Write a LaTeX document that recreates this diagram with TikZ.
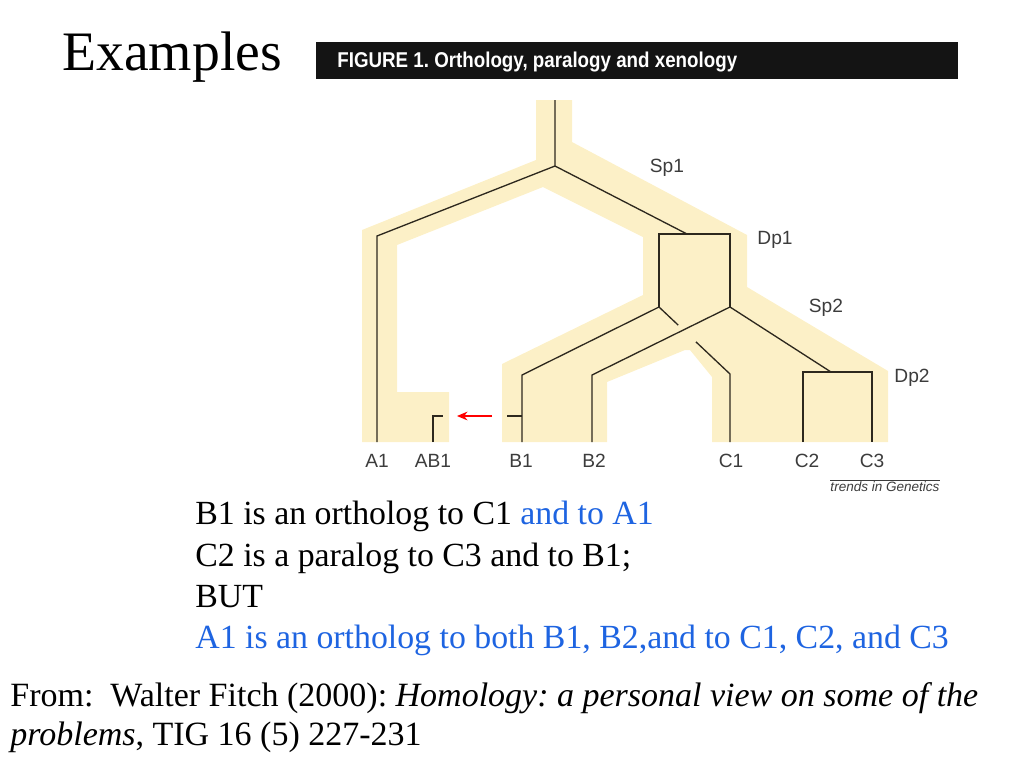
\documentclass[tikz,border=0pt]{standalone}
\usepackage{fontspec}
\setmainfont{Liberation Serif}
\newfontfamily\helv{Liberation Sans}
\usetikzlibrary{calc}
\usetikzlibrary{positioning}
\usetikzlibrary{arrows.meta}

\definecolor{band}{RGB}{252,240,199}
\definecolor{linkblue}{RGB}{30,100,225}
\definecolor{branchcol}{RGB}{45,40,30}
\definecolor{labelgray}{RGB}{60,60,60}

\tikzset{
  branch/.style={draw=branchcol, line width=0.75pt},
  leaf/.style={font=\helv\fontsize{10.9}{12}\selectfont, text=labelgray, inner sep=0pt, anchor=base},
  body/.style={font=\fontsize{19.25}{23}\selectfont, anchor=base west, inner sep=0pt},
  foot/.style={font=\fontsize{19.35}{24}\selectfont, anchor=base west, inner sep=0pt},
}

\begin{document}
\frenchspacing
\begin{tikzpicture}[x=0.02cm, y=-0.02cm]
        \useasboundingbox (0,0) rectangle (1024,768);

        % Title
        \node[anchor=base west, inner sep=0pt, font=\fontsize{31.7}{36}\selectfont] (title) at (62,70) {Examples};

        % Figure header
        \fill[black!92] (316,42) rectangle (958,79);
        \node[anchor=base west, inner sep=0pt, text=white, font=\helv\bfseries\fontsize{12.2}{14}\selectfont] (fighead) at (337,67) {\scalebox{0.875}[1]{FIGURE 1. Orthology, paralogy and xenology}};

        % Species tree (band)
        \fill[band] (536,100) -- (572,100) -- (572,142) -- (747,235) -- (747,287) -- (888,371)
            -- (888,442) -- (712,442) -- (712,377) -- (690,350) -- (685,350) -- (607,382)
            -- (607,442) -- (502,442) -- (502,364) -- (643,295) -- (643,237) -- (543,187)
            -- (397,245) -- (397,392) -- (449,392) -- (449,442) -- (362,442) -- (362,230)
            -- (536,160) -- cycle;

        % Gene tree points
        \coordinate (top) at (555,100);
        \coordinate (sp1) at (555,166);
        \coordinate (a1k) at (377,236);
        \coordinate (a1) at (377,442);
        \coordinate (dp1) at (687,234);
        \coordinate (dp1l) at (659,234);
        \coordinate (dp1r) at (730,234);
        \coordinate (sp2l) at (659,307);
        \coordinate (sp2r) at (730,307);
        \coordinate (b1k) at (522,375);
        \coordinate (b1) at (522,442);
        \coordinate (b2k) at (592,375);
        \coordinate (b2) at (592,442);
        \coordinate (c1k) at (730,374);
        \coordinate (c1) at (730,442);
        \coordinate (dp2) at (831,372);
        \coordinate (c2k) at (803,372);
        \coordinate (c3k) at (872,372);
        \coordinate (c2) at (803,442);
        \coordinate (c3) at (872,442);
        \coordinate (ab1) at (433,442);
        \coordinate (ab1k) at (433,416);
        \coordinate (ab1e) at (443,416);
        \coordinate (b1t) at (507,416);
        \coordinate (b1j) at (522,416);
        \coordinate (xfrom) at (492,416);
        \coordinate (xto) at (457,416);

        % Gene tree
        \draw[branch] (top) -- (sp1) -- (a1k) -- (a1);
        \draw[branch] (sp1) -- (dp1);
        \draw[branch] (sp2l) -- (dp1l) -- (dp1r) -- (sp2r);
        \draw[branch] (sp2l) -- (b1k) -- (b1);
        \draw[branch] (sp2r) -- (b2k) -- (b2);
        \draw[branch] (sp2l) -- ($(sp2l)!0.27!(c1k)$);
        \draw[branch] ($(sp2l)!0.52!(c1k)$) -- (c1k) -- (c1);
        \draw[branch] (sp2r) -- (dp2);
        \draw[branch] (c2) -- (c2k) -- (c3k) -- (c3);
        \draw[branch] (b1t) -- (b1j);
        \draw[branch] (ab1) -- (ab1k) -- (ab1e);

        % Transfer
        \draw[red, line width=0.7pt, -{Stealth[length=6pt, width=5pt]}] (xfrom) -- (xto);

        % Leaf and event labels
        \foreach \name/\x/\txt in {a1/377/A1, ab1/433/AB1, b1/521/B1, b2/594/B2, c1/731/C1, c2/807/C2, c3/872/C3} {
            \node[leaf] (lab-\name) at (\x,467) {\txt};
        }
        \foreach \name/\x/\y in {Sp1/667/172, Dp1/775/244, Sp2/826/312, Dp2/912/382} {
            \node[leaf] (ev-\name) at (\x,\y) {\name};
        }

        \node[anchor=base, inner sep=0pt, text=labelgray, font=\helv\itshape\fontsize{7.7}{9}\selectfont] (trends) at (885,491) {trends in Genetics};
        \draw[labelgray, line width=0.6pt] (trends.north west) -- (trends.north east);

        % Statements
        \node[body] (l1) at (195,524) {B1 is an ortholog to C1 \textcolor{linkblue}{and to A1}};
        \node[body] (l2) at (195,566) {C2 is a paralog to C3 and to B1;};
        \node[body] (l3) at (195,607) {BUT};
        \node[body, text=linkblue] (l4) at (195,648) {A1 is an ortholog to both B1, B2,and to C1, C2, and C3};

        % Source
        \node[foot] (f1) at (10,706) {From:\ \ Walter Fitch (2000): \textit{Homology: a personal view on some of the}};
        \node[foot] (f2) at (10,745) {\textit{problems}, TIG 16 (5) 227-231};
\end{tikzpicture}
\end{document}
